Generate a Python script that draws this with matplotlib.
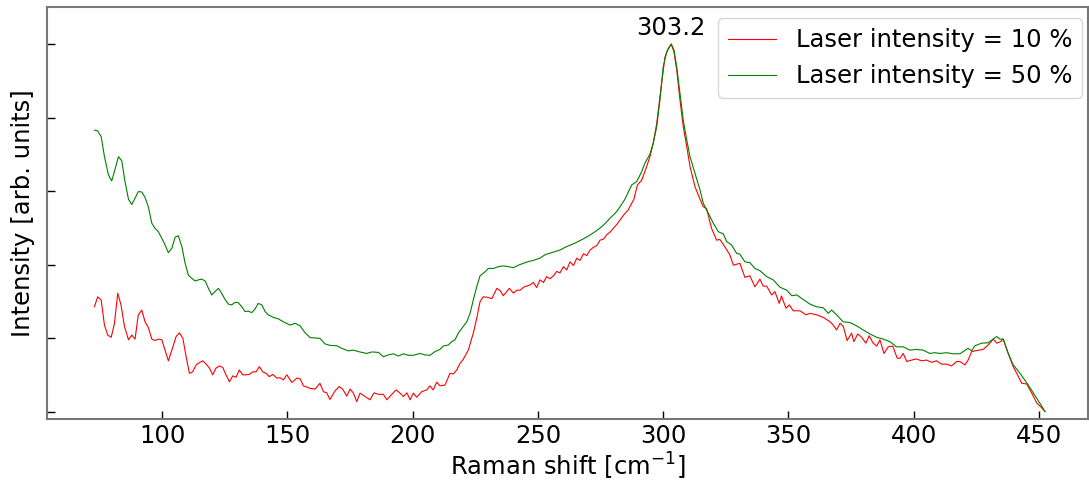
import numpy as np
import matplotlib
matplotlib.use("Agg")
from matplotlib import pyplot as plt

# Raman spectra, normalised
x_10 = [73.0, 74.3, 75.7, 77.0, 78.3, 79.7, 81.0, 82.3, 83.6, 85.0, 86.6, 87.9, 89.2, 90.5,
        91.9, 93.2, 94.5, 95.9, 97.2, 98.5, 99.9, 101.2, 102.5, 103.9, 105.6, 106.9, 108.3,
        109.6, 110.9, 112.2, 113.6, 114.9, 116.2, 117.6, 118.9, 120.2, 121.5, 122.9, 124.2,
        125.5, 126.9, 128.2, 129.5, 130.8, 132.2, 133.5, 134.8, 136.2, 137.5, 138.8, 140.2,
        141.5, 142.8, 144.2, 145.8, 147.1, 148.4, 149.8, 151.8, 153.8, 155.1, 156.4, 159.1,
        161.1, 163.0, 164.4, 165.7, 167.0, 169.0, 170.7, 172.1, 173.7, 175.0, 176.3, 177.7,
        179.0, 181.0, 183.0, 184.6, 186.3, 188.3, 189.7, 191.7, 193.4, 195.0, 196.3, 197.7,
        199.0, 200.3, 201.6, 203.6, 205.6, 206.9, 208.2, 209.6, 210.9, 212.9, 214.9, 216.2,
        217.6, 218.9, 220.2, 222.2, 224.2, 225.6, 226.9, 228.2, 229.6, 231.6, 233.6, 234.9,
        236.2, 238.6, 240.2, 241.6, 242.9, 244.5, 246.8, 248.2, 249.5, 250.8, 252.2, 253.5,
        254.8, 256.2, 257.5, 258.8, 260.2, 261.5, 262.8, 264.2, 265.5, 266.8, 268.2, 269.5,
        270.8, 272.2, 273.5, 274.8, 276.2, 277.5, 278.8, 280.2, 281.5, 282.8, 284.2, 286.0,
        288.3, 289.7, 291.4, 293.4, 294.7, 296.0, 297.4, 298.7, 300.7, 302.0, 303.2, 304.3,
        305.4, 306.7, 308.0, 309.4, 310.7, 312.7, 314.7, 316.0, 317.3, 319.3, 321.3, 322.6,
        324.6, 326.6, 328.0, 330.6, 332.6, 334.6, 336.6, 338.6, 339.9, 341.3, 343.3, 344.6,
        346.3, 347.2, 349.0, 350.3, 351.9, 354.6, 357.0, 358.6, 361.2, 363.9, 366.6, 367.9,
        369.2, 370.6, 371.9, 373.4, 375.2, 376.1, 377.6, 379.2, 380.9, 382.2, 383.8, 385.2,
        386.5, 388.1, 389.8, 391.6, 393.4, 394.5, 395.8, 397.2, 399.1, 401.1, 403.1, 405.1,
        407.1, 409.1, 411.1, 413.1, 415.1, 417.1, 418.4, 420.4, 421.7, 423.1, 425.1, 427.7,
        429.7, 431.7, 433.1, 434.6, 435.7, 437.7, 439.7, 441.1, 443.1, 445.1, 447.1, 449.1,
        450.4, 452.4]
y_10 = [0.286, 0.313, 0.304, 0.236, 0.209, 0.203, 0.241, 0.323, 0.291, 0.232, 0.196, 0.209,
        0.198, 0.264, 0.277, 0.245, 0.230, 0.198, 0.194, 0.198, 0.196, 0.168, 0.139, 0.168,
        0.205, 0.215, 0.200, 0.150, 0.105, 0.109, 0.128, 0.134, 0.139, 0.130, 0.119, 0.101,
        0.119, 0.125, 0.121, 0.101, 0.082, 0.098, 0.094, 0.114, 0.101, 0.101, 0.102, 0.109,
        0.109, 0.123, 0.109, 0.105, 0.096, 0.102, 0.092, 0.093, 0.087, 0.101, 0.080, 0.092,
        0.090, 0.071, 0.064, 0.062, 0.078, 0.055, 0.052, 0.034, 0.057, 0.069, 0.062, 0.043,
        0.062, 0.052, 0.028, 0.051, 0.042, 0.033, 0.052, 0.048, 0.048, 0.033, 0.048, 0.060,
        0.051, 0.042, 0.052, 0.033, 0.051, 0.040, 0.055, 0.060, 0.071, 0.060, 0.081, 0.071,
        0.073, 0.105, 0.103, 0.114, 0.132, 0.143, 0.168, 0.214, 0.255, 0.300, 0.313, 0.312,
        0.308, 0.336, 0.330, 0.316, 0.336, 0.323, 0.331, 0.331, 0.340, 0.345, 0.352, 0.338,
        0.359, 0.352, 0.368, 0.362, 0.370, 0.382, 0.378, 0.395, 0.386, 0.408, 0.398, 0.418,
        0.412, 0.430, 0.425, 0.440, 0.448, 0.452, 0.467, 0.470, 0.482, 0.489, 0.500, 0.510,
        0.522, 0.535, 0.549, 0.578, 0.617, 0.630, 0.667, 0.694, 0.730, 0.784, 0.857, 0.965,
        0.988, 1.000, 0.979, 0.929, 0.848, 0.775, 0.721, 0.667, 0.612, 0.578, 0.558, 0.553,
        0.499, 0.467, 0.469, 0.449, 0.427, 0.399, 0.404, 0.366, 0.370, 0.340, 0.361, 0.342,
        0.342, 0.318, 0.327, 0.295, 0.315, 0.282, 0.291, 0.275, 0.275, 0.264, 0.268, 0.264,
        0.257, 0.245, 0.236, 0.223, 0.241, 0.232, 0.194, 0.214, 0.191, 0.212, 0.203, 0.187,
        0.207, 0.187, 0.179, 0.196, 0.159, 0.177, 0.179, 0.146, 0.146, 0.159, 0.137, 0.141,
        0.144, 0.139, 0.141, 0.135, 0.139, 0.130, 0.130, 0.125, 0.137, 0.137, 0.128, 0.141,
        0.164, 0.167, 0.170, 0.182, 0.198, 0.187, 0.191, 0.198, 0.159, 0.123, 0.105, 0.078,
        0.076, 0.051, 0.024, 0.016, 0.001]

x_50 = [73.0, 74.3, 75.7, 77.0, 78.6, 79.9, 81.2, 82.6, 83.9, 85.2, 86.6, 87.9, 89.2, 90.5,
        91.9, 93.2, 94.5, 95.9, 97.2, 98.5, 99.9, 101.2, 102.5, 103.9, 105.2, 106.5, 107.9,
        109.2, 110.5, 111.9, 113.2, 114.5, 115.8, 117.2, 118.5, 119.8, 121.1, 122.5, 123.8,
        125.1, 126.5, 127.8, 129.1, 130.4, 131.8, 133.1, 134.4, 135.8, 137.1, 138.4, 139.8,
        141.1, 142.4, 144.4, 146.4, 148.4, 151.1, 153.1, 155.1, 157.1, 159.1, 163.0, 165.0,
        167.0, 169.7, 171.7, 174.3, 176.3, 179.0, 181.7, 183.7, 186.3, 188.3, 190.3, 192.3,
        194.3, 196.3, 198.3, 200.3, 202.9, 204.9, 206.9, 208.9, 210.9, 212.2, 214.2, 215.6,
        216.9, 218.2, 219.6, 221.6, 222.9, 224.2, 225.6, 226.9, 228.9, 230.2, 232.2, 234.2,
        236.2, 238.2, 240.2, 242.2, 244.2, 246.2, 248.2, 250.8, 253.0, 255.0, 258.8, 261.0,
        264.8, 268.0, 270.8, 272.8, 274.8, 276.8, 278.8, 280.8, 281.9, 284.7, 287.4, 289.4,
        291.4, 292.7, 294.7, 296.0, 297.4, 298.7, 300.0, 301.4, 302.7, 303.2, 304.3, 305.4,
        306.7, 308.0, 309.4, 310.7, 312.7, 314.7, 316.0, 318.0, 320.0, 322.0, 324.0, 325.3,
        327.3, 329.3, 330.6, 332.6, 334.6, 336.6, 338.6, 341.3, 343.9, 346.6, 349.3, 351.3,
        353.3, 355.8, 358.6, 361.2, 363.9, 365.9, 367.2, 369.2, 371.8, 374.5, 377.2, 379.8,
        382.5, 385.2, 387.8, 390.5, 393.1, 395.8, 398.5, 401.1, 403.8, 406.4, 408.4, 410.4,
        413.1, 415.7, 418.4, 420.4, 421.7, 423.1, 424.4, 427.1, 429.7, 431.7, 433.1, 434.4,
        435.7, 437.7, 439.7, 442.4, 445.7, 449.1, 452.4]
y_50 = [0.766, 0.764, 0.748, 0.694, 0.644, 0.628, 0.659, 0.694, 0.683, 0.626, 0.578, 0.564,
        0.581, 0.599, 0.598, 0.583, 0.558, 0.513, 0.499, 0.490, 0.472, 0.454, 0.433, 0.445,
        0.475, 0.479, 0.449, 0.404, 0.372, 0.363, 0.356, 0.359, 0.361, 0.356, 0.336, 0.318,
        0.327, 0.336, 0.322, 0.306, 0.293, 0.291, 0.298, 0.297, 0.286, 0.273, 0.274, 0.270,
        0.280, 0.295, 0.291, 0.273, 0.264, 0.257, 0.253, 0.245, 0.236, 0.241, 0.234, 0.215,
        0.202, 0.200, 0.185, 0.181, 0.180, 0.173, 0.166, 0.168, 0.163, 0.159, 0.163, 0.162,
        0.150, 0.155, 0.158, 0.152, 0.158, 0.154, 0.154, 0.159, 0.155, 0.154, 0.164, 0.170,
        0.179, 0.182, 0.191, 0.196, 0.214, 0.227, 0.245, 0.268, 0.304, 0.341, 0.370, 0.381,
        0.390, 0.390, 0.395, 0.397, 0.395, 0.392, 0.399, 0.404, 0.409, 0.412, 0.418, 0.428,
        0.432, 0.440, 0.448, 0.459, 0.470, 0.481, 0.490, 0.500, 0.512, 0.527, 0.540, 0.549,
        0.578, 0.617, 0.626, 0.653, 0.676, 0.701, 0.730, 0.775, 0.848, 0.938, 0.979, 0.994,
        1.000, 0.984, 0.938, 0.866, 0.793, 0.739, 0.694, 0.649, 0.603, 0.567, 0.540, 0.513,
        0.490, 0.484, 0.463, 0.454, 0.431, 0.429, 0.408, 0.406, 0.390, 0.384, 0.368, 0.359,
        0.339, 0.331, 0.316, 0.318, 0.306, 0.293, 0.286, 0.283, 0.268, 0.277, 0.264, 0.245,
        0.243, 0.234, 0.223, 0.212, 0.203, 0.198, 0.191, 0.177, 0.177, 0.168, 0.170, 0.168,
        0.159, 0.161, 0.159, 0.161, 0.158, 0.158, 0.167, 0.173, 0.166, 0.180, 0.187, 0.188,
        0.198, 0.205, 0.198, 0.198, 0.159, 0.128, 0.105, 0.073, 0.037, 0.001]

peak_pos = 303.2
labels = ["Laser intensity = 10 %", "Laser intensity = 50 %"]

plt.rcParams["font.size"] = 17.5

fig = plt.figure(figsize=(10.89, 4.86), dpi=100)
ax = fig.add_axes([0.043, 0.138, 0.956, 0.847])

ax.plot(x_10, y_10, color="red", lw=0.8, label=labels[0])
ax.plot(x_50, y_50, color="green", lw=0.8, label=labels[1])

ax.text(peak_pos, 1.012, f"{peak_pos:.1f}", ha="center", va="bottom")

ax.set_xlim(54, 469.5)
ax.set_ylim(-0.019, 1.1)
ax.set_xticks([100, 150, 200, 250, 300, 350, 400, 450])
ax.set_yticks([0, 0.2, 0.4, 0.6, 0.8, 1.0])
ax.set_yticklabels([])
ax.tick_params(direction="in", length=6, width=1)
ax.tick_params(axis="y", left=True, right=False)
for s in ax.spines.values():
    s.set_color("#777777")
    s.set_linewidth(1.5)

ax.set_xlabel("Raman shift [cm$^{-1}$]", labelpad=2)
ax.set_ylabel("Intensity [arb. units]", labelpad=5)
ax.legend(loc="upper right", bbox_to_anchor=(1.0, 0.988), borderaxespad=0.25)

fig.savefig("out.png", dpi=100)
